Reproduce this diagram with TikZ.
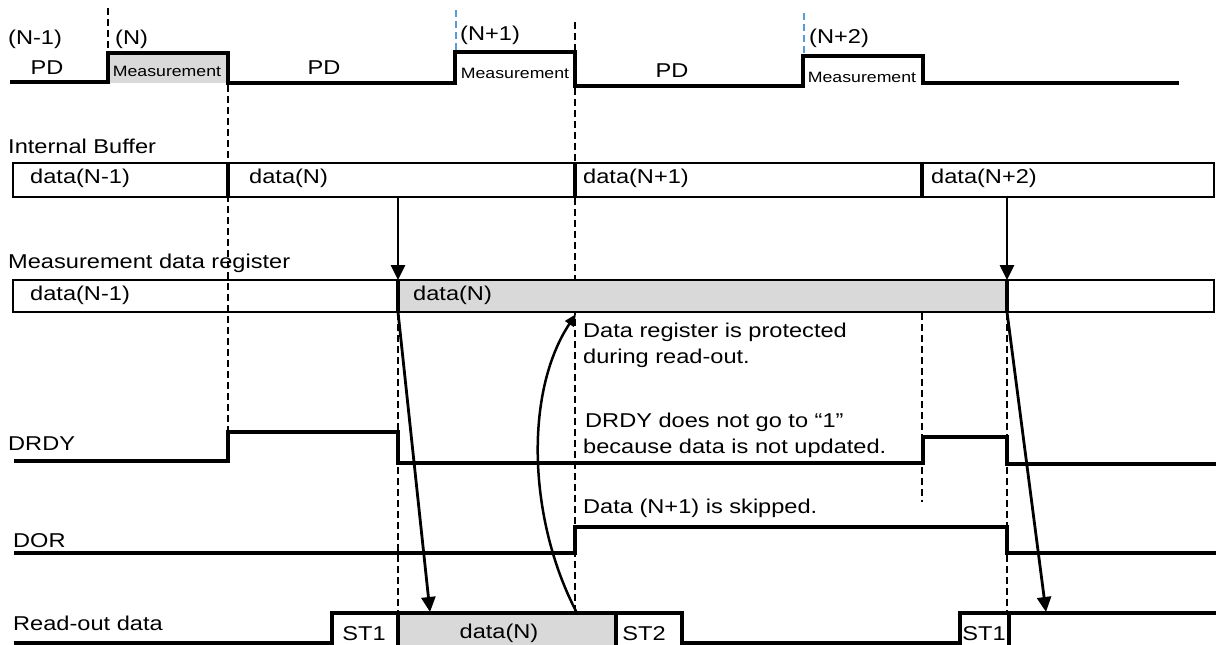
\documentclass[tikz,border=0pt]{standalone}
\usepackage{fontspec}
\setmainfont{Liberation Sans}[FakeStretch=1.18]
\usetikzlibrary{arrows.meta}
\definecolor{fillgray}{HTML}{D9D9D9}
\definecolor{guide}{HTML}{5B9BD5}
\begin{document}
\begin{tikzpicture}[x=1pt,y=-1pt,
  sig/.style={line width=3.4pt},
  boxline/.style={line width=2.8pt},
  dsh/.style={line width=1.8pt, dash pattern=on 7pt off 4pt},
  bdsh/.style={line width=1.8pt, dash pattern=on 7pt off 4pt, draw=guide},
  lbl/.style={font=\fontsize{20}{24}\selectfont, inner sep=0pt},
  sml/.style={font=\fontsize{15}{18}\selectfont, inner sep=0pt},
  arr/.style={line width=2.8pt, -{Triangle[length=15pt,width=14pt]}},
  carr/.style={line width=2.5pt, -{Triangle[length=12pt,width=10pt]}}]
\useasboundingbox (0,0) rectangle (1216,645);

% dashed guides
\draw[dsh] (108,8) -- (108,52);
\draw[dsh] (228,85) -- (228,462);
\draw[dsh] (575,22) -- (575,613);
\draw[dsh] (398,313) -- (398,613);
\draw[dsh] (922,313) -- (922,502);
\draw[dsh] (1007,313) -- (1007,613);
\draw[bdsh] (456,10) -- (456,52);
\draw[bdsh] (804,13) -- (804,55);

% fills
\fill[fillgray] (108,53) rectangle (228,83);
\fill[fillgray] (398,280) rectangle (1007,312);
\fill[fillgray] (398,613) rectangle (616,645);

% top signal
\draw[sig] (10,82) -- (108,82) -- (108,53) -- (228,53) -- (228,83) -- (455,83) -- (455,52) -- (575,52) -- (575,86) -- (803,86) -- (803,56) -- (923,56) -- (923,83) -- (1179,83);

% internal buffer
\draw[boxline] (13,163) rectangle (1214,197);
\draw[sig] (228,163) -- (228,197);
\draw[sig] (575,163) -- (575,197);
\draw[sig] (922,163) -- (922,197);

% register
\draw[boxline] (13,280) rectangle (1214,312);
\draw[sig] (398,280) -- (398,312);
\draw[sig] (1007,280) -- (1007,312);

% DRDY
\draw[sig] (14,461) -- (228,461) -- (228,432) -- (398,432) -- (398,463) -- (923,463) -- (923,437) -- (1007,437) -- (1007,464) -- (1216,464);
% DOR
\draw[sig] (14,553) -- (575,553) -- (575,527) -- (1007,527) -- (1007,553) -- (1216,553);
% Read-out
\draw[sig] (14,643) -- (332,643) -- (332,613) -- (682,613) -- (682,643) -- (960,643) -- (960,613) -- (1216,613);
\draw[sig] (398,613) -- (398,645);
\draw[sig] (616,613) -- (616,645);
\draw[sig] (1009,613) -- (1009,645);

% arrows
\coordinate (bN) at (398,197);
\coordinate (rN) at (398,280);
\coordinate (bN2) at (1007,197);
\coordinate (rN2) at (1007,280);
\coordinate (rNo) at (398,312);
\coordinate (oN) at (430,612);
\coordinate (rN2o) at (1007,312);
\coordinate (oN2) at (1046,612);
\coordinate (oc) at (577,613);
\coordinate (rc) at (576,314);
\draw[arr] (bN) -- (rN);
\draw[arr] (bN2) -- (rN2);
\draw[arr] (rNo) -- (oN);
\draw[arr] (rN2o) -- (oN2);
\draw[carr] (oc) .. controls (528,520) and (524,392) .. (rc);

% top labels
\node[lbl, anchor=west] (tNm1) at (8,39) {(N-1)};
\node[lbl, anchor=base] (pd1) at (47,74) {PD};
\node[lbl, anchor=west] (tN) at (115,39) {(N)};
\node[sml, anchor=base] (m1) at (167,76) {Measurement};
\node[lbl, anchor=base] (pd2) at (324,74) {PD};
\node[lbl, anchor=west] (tNp1) at (460,35) {(N+1)};
\node[sml, anchor=base] (m2) at (515,78) {Measurement};
\node[lbl, anchor=base] (pd3) at (672,77) {PD};
\node[lbl, anchor=west] (tNp2) at (809,38) {(N+2)};
\node[sml, anchor=base] (m3) at (862,82) {Measurement};

% buffer
\node[lbl, anchor=base west] (ibl) at (8,153) {Internal Buffer};
\node[lbl, anchor=west] (ib1) at (30,178) {data(N-1)};
\node[lbl, anchor=west] (ib2) at (249,178) {data(N)};
\node[lbl, anchor=west] (ib3) at (583,178) {data(N+1)};
\node[lbl, anchor=west] (ib4) at (931,178) {data(N+2)};

% register
\node[lbl, anchor=base west] (rgl) at (8,268) {Measurement data register};
\node[lbl, anchor=west] (rg1) at (30,295) {data(N-1)};
\node[lbl, anchor=west] (rg2) at (413,295) {data(N)};

% annotations
\node[lbl, anchor=base west] (a1) at (583,337) {Data register is protected};
\node[lbl, anchor=base west] (a2) at (583,363) {during read-out.};
\node[lbl, anchor=base west] (a3) at (585,427) {DRDY does not go to “1”};
\node[lbl, anchor=base west] (a4) at (583,453) {because data is not updated.};
\node[lbl, anchor=base west] (a5) at (583,513) {Data (N+1) is skipped.};

% signal names
\node[lbl, anchor=base west] (sd) at (8,450) {DRDY};
\node[lbl, anchor=base west] (so) at (13,547) {DOR};
\node[lbl, anchor=base west] (sr) at (13,630) {Read-out data};

% read-out texts
\node[lbl, anchor=base] (st1) at (364,640) {ST1};
\node[lbl, anchor=base] (rd) at (499,638) {data(N)};
\node[lbl, anchor=base] (st2) at (644,640) {ST2};
\node[lbl, anchor=base] (st1b) at (984,640) {ST1};
\end{tikzpicture}
\end{document}
